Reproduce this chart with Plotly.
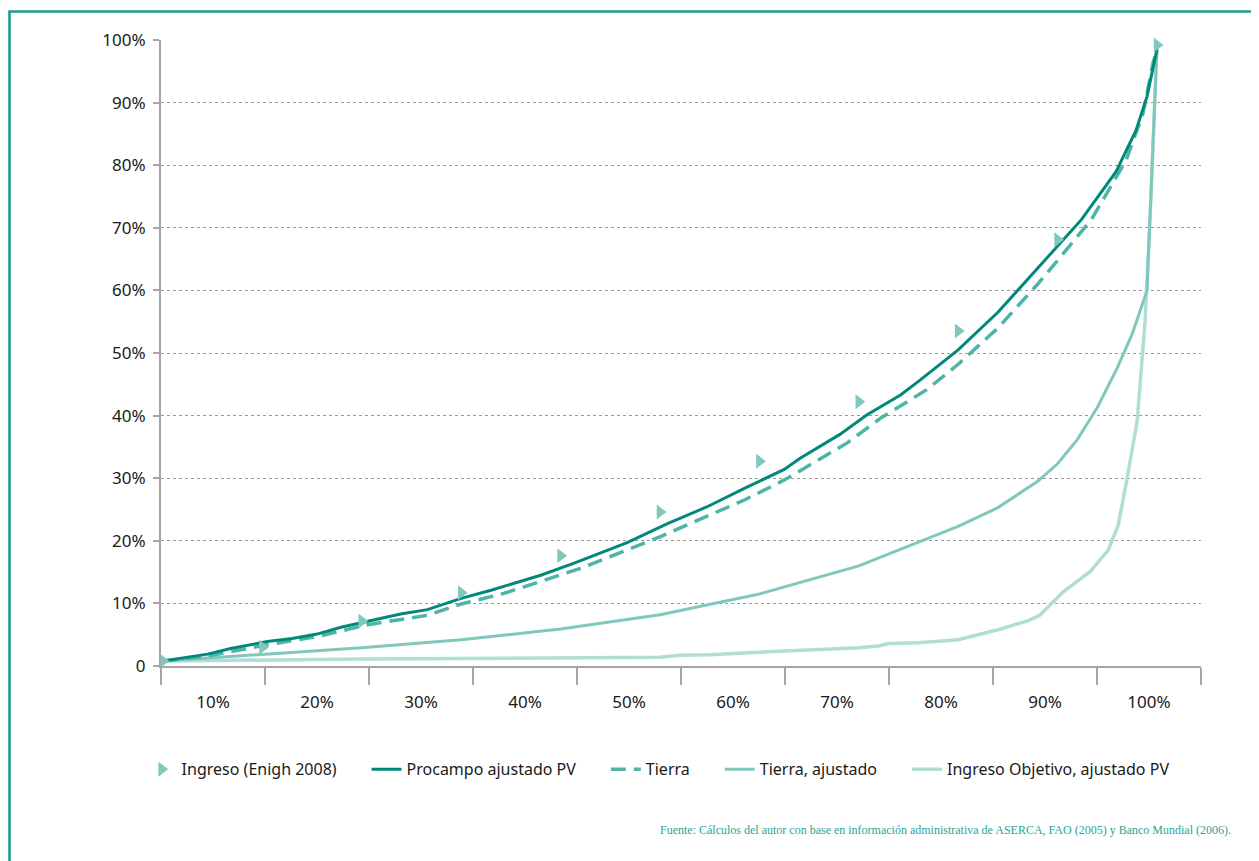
import plotly.graph_objects as go

# population share (%) and cumulative share (%)
ingreso_x = [0, 10, 20, 30, 40, 50, 60, 70, 80, 90, 100]
ingreso_y = [0.8, 3.0, 7.2, 11.7, 17.6, 24.6, 32.7, 42.2, 53.5, 68.1, 99.2]

procampo_x = [0, 2, 4.5, 6.8, 10.5, 13, 15.5, 17.9, 20.6, 23.9, 26.6, 30, 33, 35.3, 38,
              41.3, 44, 46.7, 50.7, 54.7, 58.8, 62.5, 64.1, 68.1, 70.8, 74.2, 76.2, 80,
              84, 88, 90, 92.4, 95.9, 97.9, 99, 100]
procampo_y = [0.8, 1.3, 1.9, 2.8, 3.9, 4.4, 5.1, 6.2, 7.1, 8.3, 9.0, 10.8, 12.1, 13.2, 14.5,
              16.4, 18.0, 19.7, 22.7, 25.4, 28.6, 31.4, 33.2, 37.0, 40.1, 43.3, 45.7, 50.5,
              56.5, 63.5, 67.0, 71.3, 79.0, 85.6, 91.0, 98.5]

tierra_x = [0, 4.5, 10.5, 15.5, 20.6, 26.6, 30, 34.3, 42, 50.1, 58.6, 62.5, 68.8, 72.2,
            76.8, 80, 84, 88, 90, 93.4, 96.9, 98.6, 99.6, 100]
tierra_y = [0.8, 1.6, 3.4, 4.7, 6.6, 8.1, 9.9, 11.6, 15.6, 20.7, 26.6, 29.7, 35.6, 39.6,
            44.1, 48.2, 54.0, 61.0, 64.8, 71.3, 80.8, 88.3, 96.3, 98.5]

tierra_aj_x = [0, 10, 20, 30, 40, 50, 60, 70, 80, 84, 88, 90, 92, 94, 96, 97.5, 99, 100]
tierra_aj_y = [0.8, 1.8, 2.9, 4.2, 5.9, 8.2, 11.5, 16.0, 22.3, 25.3, 29.5, 32.3, 36.2,
               41.3, 47.6, 53, 60, 99]

objetivo_x = [0, 10, 20, 30, 40, 50, 52, 55, 60, 65, 70, 72, 73, 76, 80, 82, 84, 87, 88.2,
              90.6, 93.3, 95.1, 96.1, 97, 98, 98.8, 99.4, 100]
objetivo_y = [0.8, 1.0, 1.1, 1.2, 1.3, 1.4, 1.7, 1.8, 2.2, 2.5, 2.9, 3.2, 3.6, 3.7, 4.2,
              5.0, 5.8, 7.2, 8.1, 11.9, 15.1, 18.5, 22.5, 30, 39, 55, 75, 99]

x_labels = ["10%", "20%", "30%", "40%", "50%", "60%", "70%", "80%", "90%", "100%"]
y_vals = [0, 10, 20, 30, 40, 50, 60, 70, 80, 90, 100]
y_labels = ["0", "10%", "20%", "30%", "40%", "50%", "60%", "70%", "80%", "90%", "100%"]

teal_dark = "#00897a"
teal_mid = "#4fb4a6"
teal_light = "#80c8bd"
teal_pale = "#b0ddd5"

# axis extends a bit past the data; labels sit between the boundary ticks
x_min, x_max = -0.2, 104.43
bin_w = (x_max - x_min) / 10
centers = [x_min + bin_w * (i + 0.5) for i in range(10)]

pad = "\u00a0" * 6  # extra room between legend entries

fig = go.Figure()

fig.add_trace(go.Scatter(x=objetivo_x, y=objetivo_y, mode="lines",
                         name="Ingreso Objetivo, ajustado PV", legendrank=5,
                         line=dict(color=teal_pale, width=3.5)))
fig.add_trace(go.Scatter(x=tierra_aj_x, y=tierra_aj_y, mode="lines",
                         name="Tierra, ajustado" + pad, legendrank=4,
                         line=dict(color=teal_light, width=3)))
fig.add_trace(go.Scatter(x=tierra_x, y=tierra_y, mode="lines",
                         name="Tierra" + pad, legendrank=3,
                         line=dict(color=teal_mid, width=3.5, dash="15px,8px")))
fig.add_trace(go.Scatter(x=procampo_x, y=procampo_y, mode="lines",
                         name="Procampo ajustado PV" + pad, legendrank=2,
                         line=dict(color=teal_dark, width=3)))
fig.add_trace(go.Scatter(x=ingreso_x, y=ingreso_y, mode="markers",
                         name="Ingreso (Enigh 2008)" + pad, legendrank=1, cliponaxis=False,
                         marker=dict(symbol="triangle-right", size=13, color=teal_light)))

# page body adds 8px, margins are trimmed accordingly
fig.update_layout(
    width=1259, height=861,
    margin=dict(l=153, r=66, t=32, b=203),
    plot_bgcolor="white", paper_bgcolor="white",
    font=dict(family="Noto Sans", size=17, color="#1a1a1a"),
    legend=dict(orientation="h", x=0.478, xanchor="center", y=-0.165, yanchor="middle",
                font=dict(size=16, color="#1a1a1a"), itemwidth=30),
    xaxis=dict(range=[x_min, x_max], tickvals=centers, ticktext=x_labels,
               ticks="outside", ticklen=20, tickcolor="rgba(0,0,0,0)",
               showline=True, linecolor="#a6a6a6", linewidth=2,
               showgrid=False, zeroline=False,
               minor=dict(tickmode="linear", tick0=x_min, dtick=bin_w, ticks="outside",
                          ticklen=17, tickcolor="#a6a6a6", tickwidth=2, showgrid=False)),
    yaxis=dict(range=[0, 100], tickvals=y_vals, ticktext=y_labels,
               ticks="outside", ticklen=6, tickcolor="#a6a6a6", tickwidth=2,
               ticklabelstandoff=4,
               showline=True, linecolor="#a6a6a6", linewidth=2,
               showgrid=True, gridcolor="#9a9a9a", griddash="dot", gridwidth=1,
               zeroline=False),
    shapes=[dict(type="rect", xref="paper", yref="paper",
                 x0=-0.1457, x1=1.07, y0=-0.35, y1=1.0455,
                 line=dict(color="#199a8a", width=2.5))],
    annotations=[dict(text="Fuente: Cálculos del autor con base en información administrativa "
                           "de ASERCA, FAO (2005) y Banco Mundial (2006).",
                      xref="paper", yref="paper", x=1.0308, y=-0.262,
                      xanchor="right", yanchor="middle", showarrow=False,
                      font=dict(family="Liberation Serif", size=12, color="#2aa595"))],
)

fig.write_html("out.html")
